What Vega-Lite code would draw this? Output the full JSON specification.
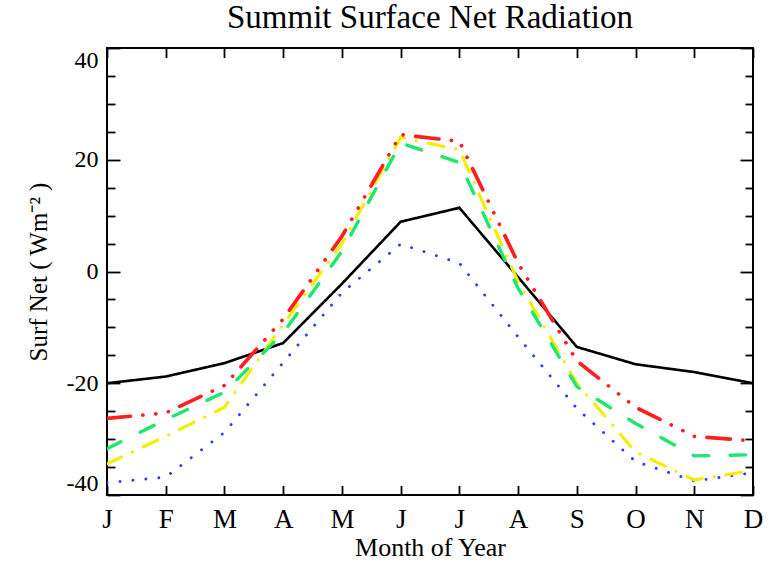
{
  "$schema": "https://vega.github.io/schema/vega-lite/v6.json",
  "width": 646,
  "height": 447,
  "autosize": {"type": "none"},
  "padding": {"left": 107, "top": 48, "right": 22, "bottom": 67},
  "background": "white",
  "config": {
    "view": {"stroke": "black", "strokeWidth": 2},
    "font": "Liberation Serif",
    "axis": {
      "grid": false,
      "domain": false,
      "tickColor": "black",
      "tickWidth": 1.8,
      "labelColor": "black",
      "labelFont": "Liberation Serif",
      "labelOverlap": false,
      "labelBound": false,
      "titleColor": "black",
      "titleFont": "Liberation Serif",
      "titleFontWeight": "normal"
    }
  },
  "title": {
    "text": "Summit Surface Net Radiation",
    "font": "Liberation Serif",
    "fontSize": 33,
    "fontWeight": "normal",
    "color": "black",
    "anchor": "middle",
    "offset": 12
  },
  "data": {
    "values": [
      {"month": 1, "series": "black", "value": -20.0},
      {"month": 2, "series": "black", "value": -18.8},
      {"month": 3, "series": "black", "value": -16.4},
      {"month": 4, "series": "black", "value": -12.8},
      {"month": 5, "series": "black", "value": -2.2},
      {"month": 6, "series": "black", "value": 8.9},
      {"month": 7, "series": "black", "value": 11.4},
      {"month": 8, "series": "black", "value": -1.0},
      {"month": 9, "series": "black", "value": -13.5},
      {"month": 10, "series": "black", "value": -16.6},
      {"month": 11, "series": "black", "value": -18.0},
      {"month": 12, "series": "black", "value": -20.0},

      {"month": 1, "series": "blue", "value": -37.8},
      {"month": 2, "series": "blue", "value": -36.8},
      {"month": 3, "series": "blue", "value": -28.8},
      {"month": 4, "series": "blue", "value": -16.3},
      {"month": 5, "series": "blue", "value": -3.8},
      {"month": 6, "series": "blue", "value": 4.9},
      {"month": 7, "series": "blue", "value": 1.5},
      {"month": 8, "series": "blue", "value": -11.7},
      {"month": 9, "series": "blue", "value": -24.5},
      {"month": 10, "series": "blue", "value": -34.0},
      {"month": 11, "series": "blue", "value": -37.5},
      {"month": 12, "series": "blue", "value": -36.0},

      {"month": 1, "series": "yellow", "value": -34.4},
      {"month": 2, "series": "yellow", "value": -29.5},
      {"month": 3, "series": "yellow", "value": -24.3},
      {"month": 4, "series": "yellow", "value": -9.5},
      {"month": 5, "series": "yellow", "value": 5.0},
      {"month": 6, "series": "yellow", "value": 24.0},
      {"month": 7, "series": "yellow", "value": 21.8},
      {"month": 8, "series": "yellow", "value": -1.8},
      {"month": 9, "series": "yellow", "value": -20.0},
      {"month": 10, "series": "yellow", "value": -32.3},
      {"month": 11, "series": "yellow", "value": -37.3},
      {"month": 12, "series": "yellow", "value": -35.6},

      {"month": 1, "series": "green", "value": -31.7},
      {"month": 2, "series": "green", "value": -26.5},
      {"month": 3, "series": "green", "value": -21.6},
      {"month": 4, "series": "green", "value": -11.0},
      {"month": 5, "series": "green", "value": 3.6},
      {"month": 6, "series": "green", "value": 23.0},
      {"month": 7, "series": "green", "value": 19.5},
      {"month": 8, "series": "green", "value": -3.0},
      {"month": 9, "series": "green", "value": -20.6},
      {"month": 10, "series": "green", "value": -27.2},
      {"month": 11, "series": "green", "value": -33.0},
      {"month": 12, "series": "green", "value": -32.8},

      {"month": 1, "series": "red", "value": -26.3},
      {"month": 2, "series": "red", "value": -25.3},
      {"month": 3, "series": "red", "value": -20.4},
      {"month": 4, "series": "red", "value": -8.5},
      {"month": 5, "series": "red", "value": 6.3},
      {"month": 6, "series": "red", "value": 24.5},
      {"month": 7, "series": "red", "value": 23.3},
      {"month": 8, "series": "red", "value": 1.5},
      {"month": 9, "series": "red", "value": -16.0},
      {"month": 10, "series": "red", "value": -24.3},
      {"month": 11, "series": "red", "value": -29.5},
      {"month": 12, "series": "red", "value": -30.3}
    ]
  },
  "layer": [
    {
      "mark": {"type": "line", "strokeCap": "round", "clip": true},
      "encoding": {
        "x": {
          "field": "month",
          "type": "quantitative",
          "scale": {"domain": [1, 12], "nice": false, "zero": false},
          "axis": {
            "orient": "bottom",
            "values": [1, 2, 3, 4, 5, 6, 7, 8, 9, 10, 11, 12],
            "labelExpr": "['J','F','M','A','M','J','J','A','S','O','N','D'][datum.value - 1]",
            "labelFlush": false,
            "labelFontSize": 27,
            "tickSize": -9.5,
            "labelPadding": 20.7,
            "title": "Month of Year",
            "titleFontSize": 26,
            "titlePadding": 2
          }
        },
        "y": {
          "field": "value",
          "type": "quantitative",
          "scale": {"domain": [-40, 40], "nice": false, "zero": false},
          "axis": {
            "orient": "left",
            "values": [-40, -20, 0, 20, 40],
            "labelExpr": "datum.value + ''",
            "labelFlush": true,
            "labelFontSize": 24,
            "tickSize": -13,
            "labelPadding": 22,
            "title": "Surf Net ( Wm⁻² )",
            "titleFontSize": 25,
            "titlePadding": 15
          }
        },
        "color": {
          "field": "series",
          "type": "nominal",
          "scale": {
            "domain": ["black", "blue", "yellow", "green", "red"],
            "range": ["#000000", "#2f3cff", "#f2ee00", "#1ee66e", "#ff1f1f"]
          },
          "legend": null
        },
        "strokeWidth": {
          "field": "series",
          "type": "ordinal",
          "scale": {
            "domain": ["black", "blue", "yellow", "green", "red"],
            "range": [2.6, 3.7, 3.2, 3.2, 3.4]
          },
          "legend": null
        },
        "strokeDash": {
          "field": "series",
          "type": "nominal",
          "scale": {
            "domain": ["black", "blue", "yellow", "green", "red"],
            "range": [
              [1, 0],
              [0.1, 12.9],
              [16, 12, 0.1, 12],
              [15.5, 21.5],
              [23.5, 12.5, 0.1, 12.8, 0.1, 12.8, 0.1, 12.5]
            ]
          },
          "legend": null
        }
      }
    },
    {
      "mark": {"type": "point", "opacity": 0},
      "encoding": {
        "x": {
          "field": "month",
          "type": "quantitative",
          "axis": {
            "orient": "top",
            "values": [1, 2, 3, 4, 5, 6, 7, 8, 9, 10, 11, 12],
            "labels": false,
            "tickSize": -9.5,
            "title": null
          }
        },
        "y": {
          "field": "value",
          "type": "quantitative",
          "axis": {
            "orient": "right",
            "values": [-40, -20, 0, 20, 40],
            "labels": false,
            "tickSize": -13,
            "title": null
          }
        }
      }
    },
    {
      "mark": {"type": "point", "opacity": 0},
      "encoding": {
        "x": {"field": "month", "type": "quantitative", "axis": null},
        "y": {
          "field": "value",
          "type": "quantitative",
          "axis": {
            "orient": "left",
            "values": [-35, -30, -25, -15, -10, -5, 5, 10, 15, 25, 30, 35],
            "labels": false,
            "tickSize": -8,
            "title": null
          }
        }
      }
    },
    {
      "mark": {"type": "point", "opacity": 0},
      "encoding": {
        "x": {"field": "month", "type": "quantitative", "axis": null},
        "y": {
          "field": "value",
          "type": "quantitative",
          "axis": {
            "orient": "right",
            "values": [-35, -30, -25, -15, -10, -5, 5, 10, 15, 25, 30, 35],
            "labels": false,
            "tickSize": -8,
            "title": null
          }
        }
      }
    }
  ],
  "resolve": {"axis": {"x": "independent", "y": "independent"}}
}
